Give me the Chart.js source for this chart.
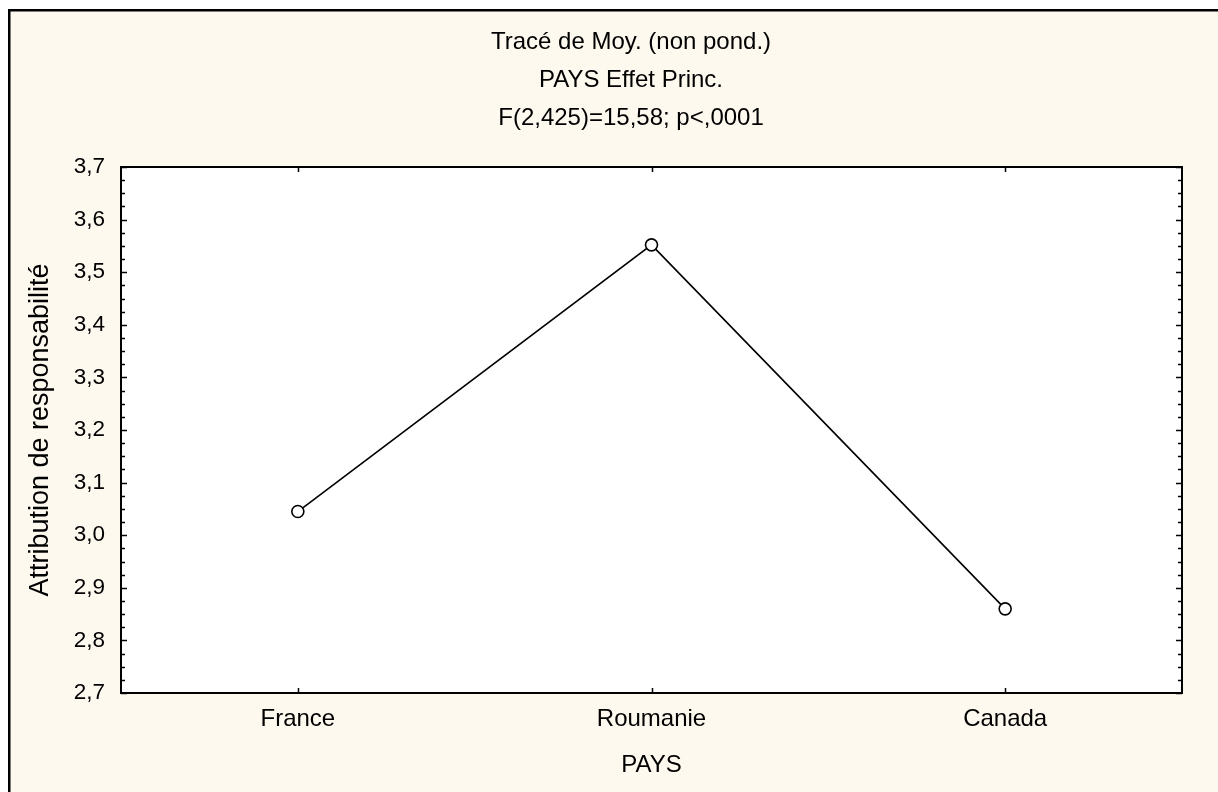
<!DOCTYPE html>
<html>
<head>
<meta charset="utf-8">
<title>Tracé de Moy. (non pond.)</title>
<script src="https://cdn.jsdelivr.net/npm/chart.js@4/dist/chart.umd.min.js"></script>
<style>
  html, body { margin: 0; padding: 0; background: #ffffff; }
  #wrap { position: relative; width: 1218px; height: 792px; }
  canvas { display: block; }
</style>
</head>
<body>
<div id="wrap"><canvas id="chart" width="1218" height="792"></canvas></div>
<script>
// Moyennes non pondérées par pays
const categories = ['France', 'Roumanie', 'Canada'];
const moyennes = [3.045, 3.552, 2.860];

// Axe vertical
const yMin = 2.7;
const yMax = 3.7;
const yMinorStep = 0.025;

// Textes
const titleLines = ['Tracé de Moy. (non pond.)', 'PAYS Effet Princ.', 'F(2,425)=15,58; p<,0001'];
const xTitle = 'PAYS';
const yTitle = 'Attribution de responsabilité';

const FONT = "'Liberation Sans', Arial, sans-serif";
const PAPER = '#fef9ef';

function isMajor(v) {
  return Math.abs(v * 10 - Math.round(v * 10)) < 1e-6;
}

// Fond crème, cadre extérieur et zone de tracé blanche
const backgroundPlugin = {
  id: 'paper',
  beforeDraw(chart) {
    const ctx = chart.ctx;
    const a = chart.chartArea;
    ctx.save();
    ctx.fillStyle = '#ffffff';
    ctx.fillRect(0, 0, chart.width, chart.height);
    ctx.fillStyle = PAPER;
    ctx.fillRect(8, 9, chart.width, chart.height);
    ctx.fillStyle = '#000000';
    ctx.fillRect(8, 9, 2.5, chart.height);
    ctx.fillRect(8, 9, chart.width, 2.5);
    ctx.fillStyle = '#ffffff';
    ctx.fillRect(a.left, a.top, a.right - a.left, a.bottom - a.top);
    ctx.restore();
  }
};

// Titre sur trois lignes
const titleBlockPlugin = {
  id: 'titleBlock',
  afterDraw(chart) {
    const ctx = chart.ctx;
    ctx.save();
    ctx.fillStyle = '#000000';
    ctx.font = '24px ' + FONT;
    ctx.textAlign = 'center';
    ctx.textBaseline = 'middle';
    titleLines.forEach((line, i) => ctx.fillText(line, 631, 42 + i * 38));
    ctx.restore();
  }
};

// Cadre de la zone de tracé et graduations intérieures
const frameTicksPlugin = {
  id: 'frameTicks',
  afterDraw(chart) {
    const ctx = chart.ctx;
    const a = chart.chartArea;
    const ys = chart.scales.y;
    const xs = chart.scales.x;
    ctx.save();
    ctx.strokeStyle = '#000000';
    ctx.lineWidth = 2;
    ctx.strokeRect(a.left, a.top, a.right - a.left, a.bottom - a.top);

    ctx.lineWidth = 1.5;
    ctx.beginPath();
    ys.ticks.forEach(t => {
      const y = Math.round(ys.getPixelForValue(t.value)) + 0.5;
      const len = isMajor(t.value) ? 6 : 4;
      ctx.moveTo(a.left, y);
      ctx.lineTo(a.left + len, y);
      ctx.moveTo(a.right, y);
      ctx.lineTo(a.right - len, y);
    });
    xs.ticks.forEach((t, i) => {
      const x = Math.round(xs.getPixelForTick(i)) + 0.5;
      ctx.moveTo(x, a.bottom);
      ctx.lineTo(x, a.bottom - 5);
      ctx.moveTo(x, a.top);
      ctx.lineTo(x, a.top + 5);
    });
    ctx.stroke();
    ctx.restore();
  }
};

new Chart(document.getElementById('chart'), {
  type: 'line',
  data: {
    labels: categories,
    datasets: [{
      label: 'Moyenne',
      data: moyennes,
      borderColor: '#000000',
      borderWidth: 1.6,
      tension: 0,
      fill: false,
      pointRadius: 6,
      pointHoverRadius: 6,
      pointBackgroundColor: '#ffffff',
      pointBorderColor: '#000000',
      pointBorderWidth: 1.6,
      clip: false
    }]
  },
  options: {
    responsive: false,
    animation: false,
    devicePixelRatio: 1,
    events: [],
    layout: { padding: { left: 0, right: 36, top: 167, bottom: 0 } },
    plugins: {
      legend: { display: false },
      tooltip: { enabled: false },
      title: { display: false }
    },
    scales: {
      x: {
        type: 'category',
        offset: true,
        grid: { display: false, drawTicks: false },
        border: { display: false },
        ticks: {
          color: '#000000',
          font: { family: FONT, size: 24 },
          padding: 12,
          autoSkip: false,
          maxRotation: 0
        },
        title: {
          display: true,
          text: xTitle,
          color: '#000000',
          font: { family: FONT, size: 24 },
          padding: { top: 0, bottom: 12 }
        },
        afterFit(scale) { scale.height = 99; }
      },
      y: {
        type: 'linear',
        min: yMin,
        max: yMax,
        grid: { display: false, drawTicks: false },
        border: { display: false },
        ticks: {
          stepSize: yMinorStep,
          maxTicksLimit: 100,
          autoSkip: false,
          color: '#000000',
          font: { family: FONT, size: 22.5 },
          padding: 16,
          callback(value) {
            return isMajor(value) ? value.toFixed(1).replace('.', ',') : '';
          }
        },
        title: {
          display: true,
          text: yTitle,
          color: '#000000',
          font: { family: FONT, size: 27 },
          padding: { top: 24, bottom: 0 }
        },
        afterFit(scale) { scale.width = 121; }
      }
    }
  },
  plugins: [backgroundPlugin, frameTicksPlugin, titleBlockPlugin]
});
</script>
</body>
</html>
